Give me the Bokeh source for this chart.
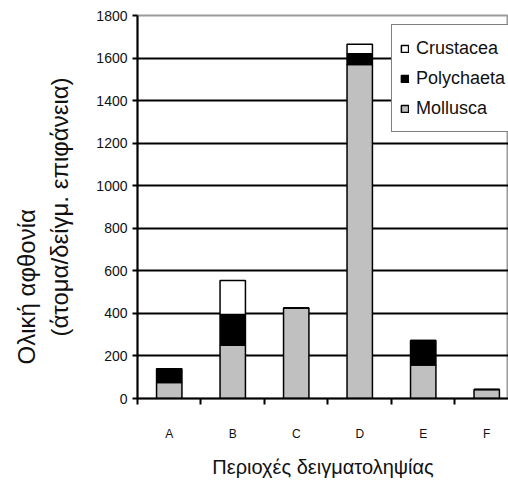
from bokeh.plotting import figure
from bokeh.models import (Range1d, FixedTicker, Title, Legend, LegendItem,
                          ColumnDataSource)
from bokeh.embed import file_html
from bokeh.resources import INLINE

categories = ["A", "B", "C", "D", "E", "F"]
mollusca = [75, 250, 425, 1570, 158, 42]
polychaeta = [65, 145, 0, 50, 115, 0]
crustacea = [0, 160, 0, 45, 0, 0]
series = ["Mollusca", "Polychaeta", "Crustacea"]
colors = ["#c0c0c0", "#000000", "#ffffff"]
y_ticks = [0, 200, 400, 600, 800, 1000, 1200, 1400, 1600, 1800]
x_title = "Περιοχές δειγματοληψίας"
y_title_1 = "Ολική αφθονία"
y_title_2 = "(άτομα/δείγμ. επιφάνεια)"

FONT = "Liberation Sans"

x_centers = [i + 0.5 for i in range(len(categories))]
boundaries = [float(i) for i in range(len(categories))]

source = ColumnDataSource(dict(x=x_centers, Mollusca=mollusca,
                               Polychaeta=polychaeta, Crustacea=crustacea))

p = figure(width=508, height=485, x_range=Range1d(0, 5.843), y_range=Range1d(0, 1800),
           output_backend="svg", toolbar_location=None,
           min_border_left=137, min_border_right=0, min_border_top=15, min_border_bottom=87)
p.background_fill_color = "white"
p.border_fill_color = "white"
p.outline_line_color = "#9a9a9a"
p.outline_line_width = 2

renderers = p.vbar_stack(series, x="x", width=0.4, source=source,
                         fill_color=colors, line_color="black", line_width=1.5)

# axes
p.yaxis.ticker = FixedTicker(ticks=y_ticks)
p.yaxis.axis_line_color = "black"
p.yaxis.axis_line_width = 2
p.yaxis.major_tick_out = 5
p.yaxis.major_tick_in = 0
p.yaxis.major_tick_line_width = 2
p.yaxis.minor_tick_line_color = None
p.yaxis.major_label_text_font = FONT
p.yaxis.major_label_text_font_size = "14px"
p.yaxis.major_label_text_color = "#111111"
p.yaxis.major_label_standoff = 5
p.yaxis.axis_label = y_title_2
p.yaxis.axis_label_text_font = FONT
p.yaxis.axis_label_text_font_size = "24px"
p.yaxis.axis_label_text_font_style = "normal"
p.yaxis.axis_label_text_color = "#111111"
p.yaxis.axis_label_standoff = 20

p.xaxis.ticker = FixedTicker(ticks=x_centers, minor_ticks=boundaries)
p.xaxis.major_label_overrides = {x: c for x, c in zip(x_centers, categories)}
p.xaxis.axis_line_color = "black"
p.xaxis.axis_line_width = 2
p.xaxis.major_tick_out = 0
p.xaxis.major_tick_in = 0
p.xaxis.minor_tick_out = 6
p.xaxis.minor_tick_in = 0
p.xaxis.minor_tick_line_color = "black"
p.xaxis.minor_tick_line_width = 2
p.xaxis.major_label_text_font = FONT
p.xaxis.major_label_text_font_size = "12px"
p.xaxis.major_label_text_color = "#111111"
p.xaxis.major_label_standoff = 22
p.xaxis.axis_label = x_title
p.xaxis.axis_label_text_font = FONT
p.xaxis.axis_label_text_font_size = "20px"
p.xaxis.axis_label_text_font_style = "normal"
p.xaxis.axis_label_text_color = "#111111"
p.xaxis.axis_label_standoff = 12

p.xgrid.grid_line_color = None
p.ygrid.ticker = FixedTicker(ticks=y_ticks[:-1])
p.ygrid.grid_line_color = "black"
p.ygrid.grid_line_width = 2

# first line of the y title, further out in the left panel
t1 = Title(text=y_title_1, align="left", offset=34, standoff=8,
           text_font=FONT, text_font_size="24px", text_font_style="normal",
           text_color="#111111")
p.add_layout(t1, "left")

# legend
items = [LegendItem(label=s, renderers=[r]) for s, r in zip(series, renderers)][::-1]
legend = Legend(items=items, location=(254, 266))
legend.border_line_color = "black"
legend.border_line_width = 1.5
legend.background_fill_color = "white"
legend.background_fill_alpha = 1
legend.padding = 8
legend.spacing = 0
legend.margin = 0
legend.label_height = 30
legend.glyph_height = 9
legend.glyph_width = 9
legend.label_standoff = 7
legend.label_text_font = FONT
legend.label_text_font_size = "18px"
legend.label_text_color = "#111111"
p.add_layout(legend)

open("out.html", "w").write(file_html(p, INLINE))
